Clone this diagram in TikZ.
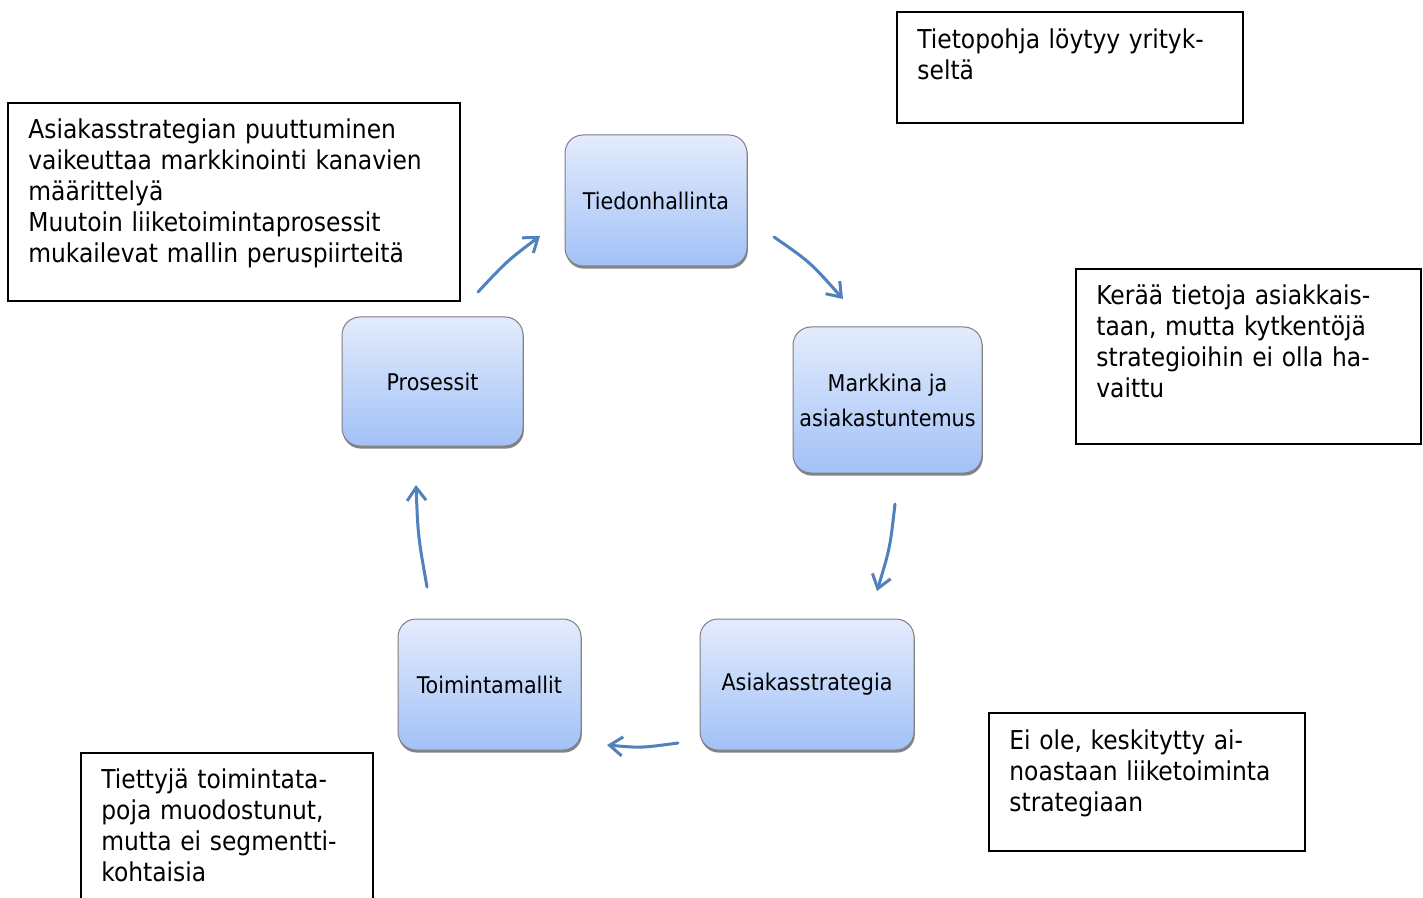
\documentclass[tikz,border=0pt]{standalone}
\usepackage{fontspec}
\setmainfont{DejaVu Sans Condensed}
\usetikzlibrary{arrows.meta,shadows}
\definecolor{arr}{HTML}{4F81BD}
\definecolor{btop}{HTML}{E3ECFC}
\definecolor{bbot}{HTML}{A2C1F7}
\definecolor{bline}{HTML}{7F7F7F}
\begin{document}
\begin{tikzpicture}[x=0.5pt,y=-0.5pt,
  tbox/.style={draw=black, line width=1pt, inner sep=0pt, rectangle},
  ttext/.style={anchor=base west, inner sep=0pt, text width=220pt, align=left,
    font=\fontsize{13}{15.5}\selectfont},
  bnode/.style={rectangle, rounded corners=9pt, draw=bline, line width=0.5pt,
    top color=btop, bottom color=bbot, inner sep=0pt, align=center,
    drop shadow={shadow xshift=0.4pt, shadow yshift=-1.3pt, fill=black!60, opacity=0.8},
    font=\fontsize{11.5}{17.5}\selectfont},
  flow/.style={draw=arr, line width=1.5pt, line cap=round,
    -{Straight Barb[length=6.5pt,width=9.5pt]}}
]
\useasboundingbox (0,0) rectangle (1423,898);
\fill[white] (0,0) rectangle (1423,898);

% text boxes
\node[tbox, minimum width=173pt, minimum height=55.5pt] (tr) at (1070,67.5) {};
\node[ttext] (trt) at (917,49) {Tietopohja löytyy yrityk-\\seltä};

\node[tbox, minimum width=226pt, minimum height=99pt] (lb) at (234,202) {};
\node[ttext] (lbt) at (28,139) {Asiakasstrategian puuttuminen\\vaikeuttaa markkinointi kanavien\\määrittelyä\\Muutoin liiketoimintaprosessit\\mukailevat mallin peruspiirteitä};

\node[tbox, minimum width=172.5pt, minimum height=87.5pt] (rb) at (1248.5,356.5) {};
\node[ttext] (rbt) at (1096,305) {Kerää tietoja asiakkais-\\taan, mutta kytkentöjä\\strategioihin ei olla ha-\\vaittu};

\node[tbox, minimum width=158pt, minimum height=69pt] (brb) at (1147,782) {};
\node[ttext] (brbt) at (1009,749) {Ei ole, keskitytty ai-\\noastaan liiketoiminta\\strategiaan};

\node[tbox, minimum width=146pt, minimum height=83.5pt] (blb) at (227,836.5) {};
\node[ttext] (blbt) at (101,788) {Tiettyjä toimintata-\\poja muodostunut,\\mutta ei segmentti-\\kohtaisia};

% cycle nodes
\node[bnode, minimum width=91pt, minimum height=65.5pt] (T) at (656,200.5) {Tiedonhallinta};
\node[bnode, minimum width=94.5pt, minimum height=73pt] (M) at (887.5,400) {Markkina ja\\asiakastuntemus};
\node[bnode, minimum width=107pt, minimum height=65.5pt] (A) at (807,684.5) {Asiakasstrategia};
\node[bnode, minimum width=91.5pt, minimum height=65.5pt] (To) at (489.5,684.5) {Toimintamallit};
\node[bnode, minimum width=90.5pt, minimum height=64.5pt] (P) at (432.5,381.5) {Prosessit};

% arrows
\coordinate (a1s) at (478,292); \coordinate (a1e) at (540,236);
\coordinate (a2s) at (774,237); \coordinate (a2e) at (843,299);
\coordinate (a3s) at (895,504); \coordinate (a3e) at (877,591);
\coordinate (a4s) at (678,743); \coordinate (a4e) at (607,745);
\coordinate (a5s) at (427,587); \coordinate (a5e) at (416,485);

\draw[flow] (a1s) .. controls (507,261) .. (a1e);
\draw[flow] (a2s) .. controls (810,262) .. (a2e);
\draw[flow] (a3s) .. controls (890,548) .. (a3e);
\draw[flow] (a4s) .. controls (641,748) .. (a4e);
\draw[flow] (a5s) .. controls (418,536) .. (a5e);
\end{tikzpicture}
\end{document}
